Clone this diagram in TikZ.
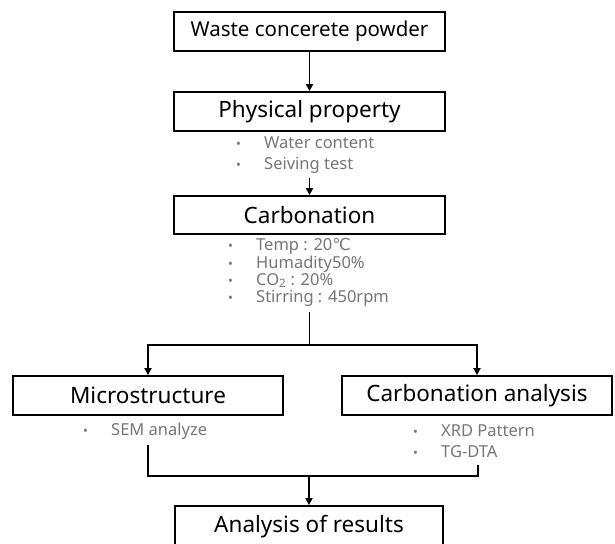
\documentclass[tikz,border=0pt]{standalone}
\usepackage{fontspec}
\setmainfont{Noto Sans}
\newfontfamily\symfont{DejaVu Sans}
\usetikzlibrary{arrows.meta}
\definecolor{bulletgray}{RGB}{118,118,118}
\tikzset{
  box/.style={draw=black, line width=1.8pt, minimum width=271pt, minimum height=39pt, inner sep=0pt, font=\fontsize{22.5}{26}\selectfont, text=black},
  blist/.style={anchor=west, inner sep=0pt, align=left, text=bulletgray},
  conn/.style={line width=1.7pt, -{Triangle[length=7pt,width=7pt]}},
  plain/.style={line width=1.7pt}
}
\newcommand{\bul}{\makebox[28pt][l]{\fontsize{13}{13}\selectfont\textbullet}}
\begin{document}
\begin{tikzpicture}[x=1pt,y=-1pt]
\useasboundingbox (0,0) rectangle (615,543);
\clip (0,0) rectangle (615,543);
\node[box, font=\fontsize{20.5}{24}\selectfont] (b1) at (309.5,31.5) {Waste concerete powder};
\node[box] (b2) at (309.5,111.5) {Physical property};
\node[blist, font=\fontsize{16.5}{21}\selectfont] (l1) at (236,155.5) {\bul Water content\\\bul Seiving test};
\node[box, minimum height=38pt] (b3) at (309.5,215) {Carbonation};
\node[blist, font=\fontsize{16.5}{17.2}\selectfont] (l2) at (228,272.5) {\bul Temp : 20{\symfont ℃}\\\bul Humadity50\%\\\bul CO\textsubscript{2} : 20\%\\\bul Stirring : 450rpm};
\node[box, minimum width=270pt] (b4) at (148,395.5) {Microstructure};
\node[box, minimum width=270pt] (b5) at (477,395.5) {Carbonation analysis};
\node[blist, font=\fontsize{16.5}{21}\selectfont] (l3) at (83,431) {\bul SEM analyze};
\node[blist, font=\fontsize{16.5}{21}\selectfont] (l4) at (413,441.5) {\bul XRD Pattern\\\bul TG-DTA};
\node[box, minimum width=268pt, minimum height=42pt] (b6) at (309,527) {Analysis of results};
\coordinate (s1) at (309.5,178);
\coordinate (s2) at (309.5,312);
\coordinate (split) at (309.5,345);
\coordinate (m1) at (148,445);
\coordinate (m2) at (478,465);
\coordinate (merge) at (309,476);
\draw[conn] (b1.south) -- (b2.north);
\draw[conn] (s1) -- (b3.north);
\draw[plain] (s2) -- (split);
\draw[conn] (split) -| (b4.north);
\draw[conn] (split) -| (b5.north);
\draw[plain] (m1) |- (merge);
\draw[plain] (m2) |- (merge);
\draw[conn] (merge) -- (b6.north);
\end{tikzpicture}
\end{document}
